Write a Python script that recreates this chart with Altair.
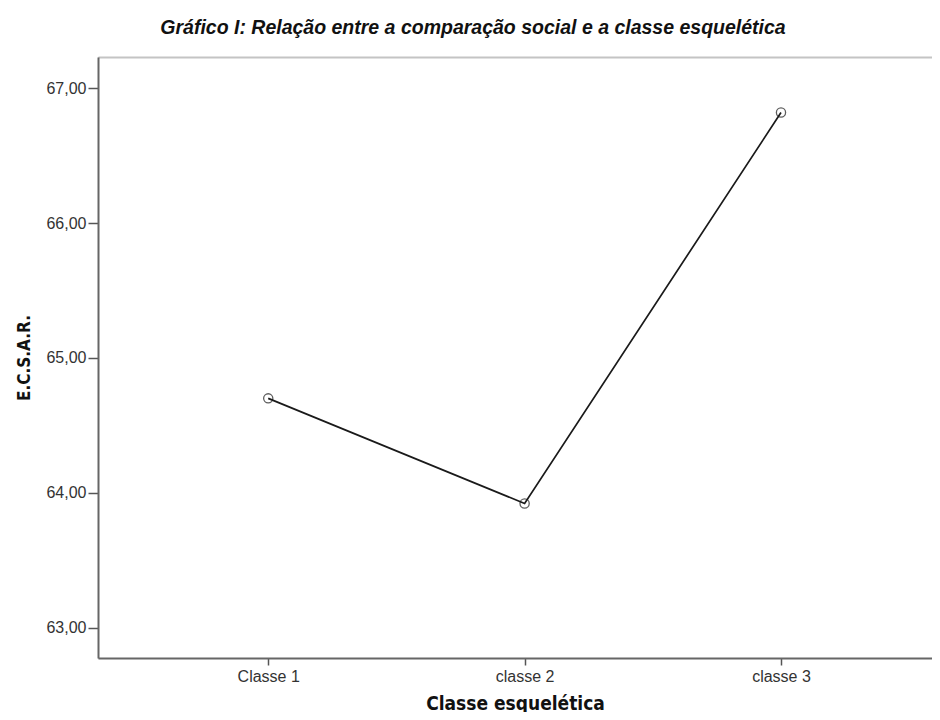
import altair as alt
import pandas as pd

categories = ["Classe 1", "classe 2", "classe 3"]
values = [64.70, 63.92, 66.82]
y_ticks = [63, 64, 65, 66, 67]

df = pd.DataFrame({
    "pos": list(range(1, len(categories) + 1)),
    "cat": categories,
    "val": values,
})

label_expr = " : ".join(
    [f"datum.value == {i + 1} ? '{c}'" for i, c in enumerate(categories)]
) + " : ''"

narrow = "Liberation Sans Narrow, Arial Narrow, DejaVu Sans Condensed, sans-serif"
regular = "Liberation Sans, Arial, sans-serif"

x_scale = alt.Scale(domain=[0.336, 3.589], nice=False, zero=False)
y_scale = alt.Scale(domain=[62.774, 67.232], nice=False, zero=False)

x_bottom = alt.X(
    "pos:Q",
    scale=x_scale,
    axis=alt.Axis(
        values=[1, 2, 3],
        labelExpr=label_expr,
        title="Classe esquelética",
        titleFont=narrow,
        titleFontSize=19,
        titleFontWeight="bold",
        titleColor="#111111",
        titleBaseline="middle",
        titleY=45,
        labelFont=regular,
        labelFontSize=16,
        labelColor="#333333",
        labelPadding=3,
        tickSize=7,
        tickColor="#555555",
        tickWidth=1.5,
        domainColor="#666666",
        domainWidth=2,
        grid=False,
    ),
)

x_top = alt.X(
    "pos:Q",
    scale=x_scale,
    axis=alt.Axis(
        orient="top",
        labels=False,
        ticks=False,
        title=None,
        domainColor="#c4c4c4",
        domainWidth=2,
        grid=False,
    ),
)

y = alt.Y(
    "val:Q",
    scale=y_scale,
    axis=alt.Axis(
        values=y_ticks,
        labelExpr="replace(format(datum.value, '.2f'), '.', ',')",
        title="E.C.S.A.R.",
        titleFont=narrow,
        titleFontSize=17,
        titleFontWeight="bold",
        titleColor="#111111",
        titleBaseline="middle",
        titleX=-74,
        labelFont=regular,
        labelFontSize=16,
        labelColor="#333333",
        labelPadding=2,
        tickSize=10,
        tickColor="#555555",
        tickWidth=1.5,
        domainColor="#666666",
        domainWidth=2,
        grid=False,
    ),
)

line = alt.Chart(df).mark_line(color="#1a1a1a", strokeWidth=1.7).encode(x=x_bottom, y=y)
pts = alt.Chart(df).mark_point(
    shape="circle", filled=False, color="#1a1a1a", size=85, strokeWidth=1.3
).encode(x=x_top, y=alt.Y("val:Q", scale=y_scale))

chart = (
    alt.layer(line, pts)
    .resolve_axis(x="independent")
    .properties(
        width=834,
        height=601,
        autosize=alt.AutoSizeParams(type="none"),
        padding={"left": 90, "top": 49, "right": 0, "bottom": 54},
        title=alt.TitleParams(
            "Gráfico I: Relação entre a comparação social e a classe esquelética",
            font=regular,
            fontSize=19.5,
            fontWeight="bold",
            fontStyle="italic",
            color="#111111",
            anchor="middle",
            dx=-42,
            offset=19,
        ),
    )
    .configure_view(stroke=None)
    .configure(background="white")
)

chart.save("out.html", embed_options={"renderer": "svg", "actions": False})
